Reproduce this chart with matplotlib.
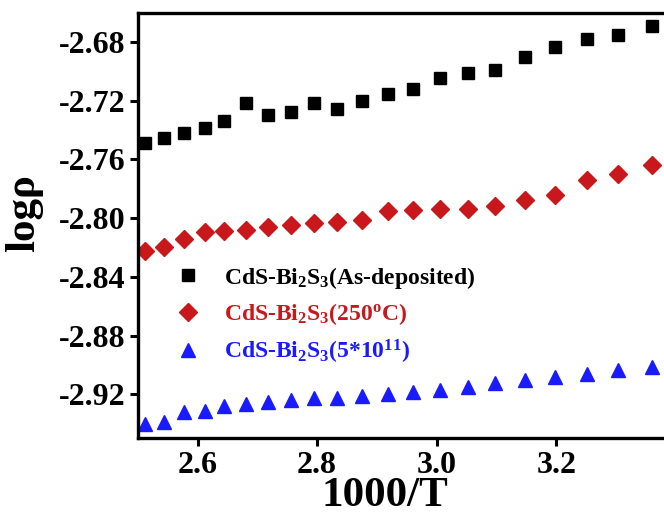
import numpy as np
import matplotlib
matplotlib.use('Agg')
import matplotlib.pyplot as plt

plt.rcParams['font.family'] = ['Liberation Serif', 'DejaVu Serif']
plt.rcParams['font.weight'] = 'bold'
plt.rcParams['mathtext.fontset'] = 'custom'
plt.rcParams['mathtext.rm'] = 'Liberation Serif:bold'
plt.rcParams['mathtext.it'] = 'Liberation Serif:bold'
plt.rcParams['mathtext.bf'] = 'Liberation Serif:bold'
plt.rcParams['axes.unicode_minus'] = False

# 1000/T values
inv_t = [2.513, 2.544, 2.577, 2.612, 2.645, 2.681, 2.718, 2.756, 2.795, 2.834,
         2.875, 2.918, 2.960, 3.006, 3.052, 3.098, 3.148, 3.198, 3.251, 3.304, 3.360]

logrho_asdep = [-2.7486, -2.7456, -2.7417, -2.7387, -2.7337, -2.7218, -2.7296,
                -2.7275, -2.7216, -2.7257, -2.7205, -2.7154, -2.7120, -2.7045,
                -2.7013, -2.6990, -2.6903, -2.6834, -2.6777, -2.6754, -2.6693]
logrho_250 = [-2.8227, -2.8200, -2.8143, -2.8095, -2.8086, -2.8080, -2.8061,
              -2.8045, -2.8030, -2.8027, -2.8016, -2.7950, -2.7943, -2.7936,
              -2.7936, -2.7920, -2.7874, -2.7840, -2.7737, -2.7698, -2.7640]
logrho_irr = [-2.9402, -2.9386, -2.9323, -2.9311, -2.9280, -2.9266, -2.9250,
              -2.9239, -2.9227, -2.9223, -2.9211, -2.9198, -2.9186, -2.9170,
              -2.9152, -2.9125, -2.9102, -2.9084, -2.9064, -2.9034, -2.9011]

labels = [r'CdS-Bi$_{2}$S$_{3}$(As-deposited)',
          r'CdS-Bi$_{2}$S$_{3}$(250$^{o}$C)',
          r'CdS-Bi$_{2}$S$_{3}$(5*10$^{11}$)']
colors = ['#000000', '#C8181C', '#1A1AFF']

x_ticks = [2.6, 2.8, 3.0, 3.2]
y_ticks = [-2.92, -2.88, -2.84, -2.80, -2.76, -2.72, -2.68]

fig = plt.figure(figsize=(6.64, 5.18), dpi=100)
# axes runs past the right edge (the original picture is cropped there)
ax = fig.add_axes([0.2074, 0.1539, 0.8105, 0.8216])

ax.plot(inv_t, logrho_asdep, 's', color=colors[0], markersize=9, label=labels[0])
ax.plot(inv_t, logrho_250, 'D', color=colors[1], markersize=9, label=labels[1])
ax.plot(inv_t, logrho_irr, '^', color=colors[2], markersize=10.5, label=labels[2])

ax.set_xlim(2.5, 3.40)
ax.set_ylim(-2.95, -2.66)
ax.set_xticks(x_ticks)
ax.set_yticks(y_ticks)
ax.xaxis.set_major_formatter(matplotlib.ticker.FormatStrFormatter('%.1f'))
ax.yaxis.set_major_formatter(matplotlib.ticker.FormatStrFormatter('%.2f'))
ax.tick_params(direction='out', length=6, width=2.2, labelsize=23, pad=3)
for sp in ax.spines.values():
    sp.set_linewidth(2.4)

ax.set_xlabel('1000/T', fontsize=31, fontweight='bold', labelpad=0)
ax.xaxis.set_label_coords(0.46, -0.092)
ax.set_ylabel('log\u03c1', fontsize=31, fontweight='bold')
ax.yaxis.set_label_coords(-0.175, 0.53)

leg = ax.legend(loc='upper left', bbox_to_anchor=(0.05, 0.43), frameon=False,
                fontsize=17, handletextpad=0.9, labelspacing=0.45,
                handlelength=1.2, borderaxespad=0)
for txt, c in zip(leg.get_texts(), colors):
    txt.set_color(c)

fig.savefig('out.png', dpi=100)
